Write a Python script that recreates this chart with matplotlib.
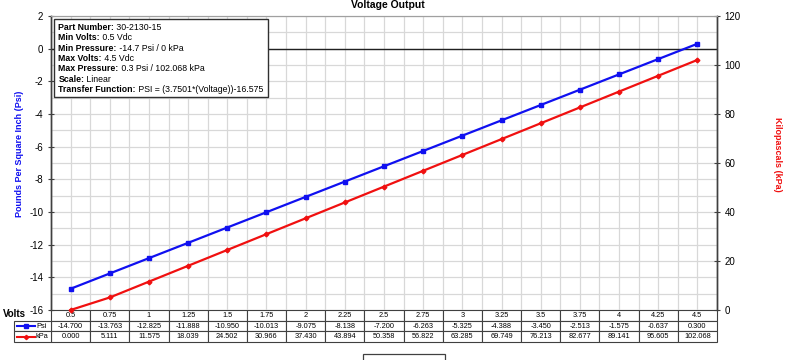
import matplotlib
matplotlib.use('Agg')
import matplotlib.pyplot as plt
from matplotlib.patches import Rectangle
from matplotlib.ticker import MultipleLocator

plt.rcParams['font.family'] = ['Liberation Sans', 'DejaVu Sans']

volts = ['0.5', '0.75', '1', '1.25', '1.5', '1.75', '2', '2.25', '2.5',
         '2.75', '3', '3.25', '3.5', '3.75', '4', '4.25', '4.5']
psi = [-14.700, -13.763, -12.825, -11.888, -10.950, -10.013, -9.075, -8.138,
       -7.200, -6.263, -5.325, -4.388, -3.450, -2.513, -1.575, -0.637, 0.300]
kpa = [0.000, 5.111, 11.575, 18.039, 24.502, 30.966, 37.430, 43.894, 50.358,
       56.822, 63.285, 69.749, 76.213, 82.677, 89.141, 95.605, 102.068]

info = [
    ('Part Number:', ' 30-2130-15'),
    ('Min Volts:', ' 0.5 Vdc'),
    ('Min Pressure:', ' -14.7 Psi / 0 kPa'),
    ('Max Volts:', ' 4.5 Vdc'),
    ('Max Pressure:', ' 0.3 Psi / 102.068 kPa'),
    ('Scale:', ' Linear'),
    ('Transfer Function:', ' PSI = (3.7501*(Voltage))-16.575'),
]

BLUE = '#1010f0'
RED = '#f01010'
EDGE = '#404040'


def main():
    fig = plt.figure(figsize=(8, 3.6), dpi=100)
    ax = fig.add_axes([51 / 800, 1 - 310 / 360, 666 / 800, 294 / 360])
    ax2 = ax.twinx()

    x = list(range(len(volts)))
    ax.set_xlim(-0.5, len(volts) - 0.5)
    ax.set_ylim(-16, 2)
    ax2.set_ylim(0, 120)

    # grid: every half column, every 1 psi
    ax.set_xticks([i - 0.5 for i in range(len(volts) + 1)])
    ax.set_xticks(x, minor=True)
    ax.tick_params(axis='x', which='both', length=0, labelbottom=False)
    ax.yaxis.set_major_locator(MultipleLocator(2))
    ax.yaxis.set_minor_locator(MultipleLocator(1))
    ax.grid(True, which='both', color='#d8d8d8', linewidth=0.9)
    ax.set_axisbelow(True)
    ax.axhline(0, color='#202020', linewidth=1.0, zorder=1)

    ax.tick_params(axis='y', which='major', direction='inout', length=5,
                   width=0.8, color=EDGE, labelsize=7, pad=3)
    ax.tick_params(axis='y', which='minor', length=0)
    ax2.yaxis.set_major_locator(MultipleLocator(20))
    ax2.tick_params(axis='y', direction='inout', length=5, width=0.8,
                    color=EDGE, labelsize=7, pad=3)
    ax.set_yticklabels([f'{v:g}' for v in ax.get_yticks()])

    for a in (ax, ax2):
        a.spines['top'].set_color('#a0a0a0')
        a.spines['bottom'].set_visible(False)
        a.spines['left'].set_color(EDGE)
        a.spines['right'].set_color(EDGE)
        a.spines['left'].set_linewidth(1.0)
        a.spines['right'].set_linewidth(1.0)

    ax.plot(x, psi, color=BLUE, linewidth=1.6, marker='s', markersize=3.5,
            clip_on=False, zorder=3)
    ax2.plot(x, kpa, color=RED, linewidth=1.6, marker='D', markersize=2.4,
             clip_on=False, zorder=3)

    ax.set_ylabel('Pounds Per Square Inch (Psi)', color=BLUE, fontsize=6.5,
                  fontweight='bold')
    ax2.set_ylabel('Kilopascals (kPa)', color=RED, fontsize=6.5,
                   fontweight='bold', rotation=270)
    ax.yaxis.set_label_coords(-0.041, 0.53)
    ax2.yaxis.set_label_coords(1.098, 0.53)

    # info box
    box = Rectangle((0.005, 0.724), 0.321, 0.266, transform=ax.transAxes,
                    facecolor='white', edgecolor='#303030', linewidth=1.0,
                    zorder=5)
    ax.add_patch(box)
    step = 0.0355
    for i, (label, value) in enumerate(info):
        t = ax.text(0.011, 0.962 - i * step, label, transform=ax.transAxes,
                    fontsize=6.3, fontweight='bold', va='center', ha='left',
                    zorder=6)
        ax.annotate(value, xy=(1, 0.5), xycoords=t, fontsize=6.3,
                    va='center', ha='left', zorder=6)

    # data table under the plot
    h = 32 / 294
    tbl = ax.table(cellText=[volts,
                             [f'{v:.3f}' for v in psi],
                             [f'{v:.3f}' for v in kpa]],
                   cellLoc='center', bbox=[0, -h, 1, h])
    tbl.auto_set_font_size(False)
    tbl.set_fontsize(5.3)
    for cell in tbl.get_celld().values():
        cell.set_edgecolor(EDGE)
        cell.set_linewidth(0.8)

    lw = 37 / 666
    keys = ax.table(cellText=[[''], ['']], bbox=[-lw, -h, lw, h * 2 / 3])
    for cell in keys.get_celld().values():
        cell.set_edgecolor(EDGE)
        cell.set_linewidth(0.8)
    row_h = h / 3
    for j, (name, col, mk, ms) in enumerate([('Psi', BLUE, 's', 3),
                                             ('kPa', RED, 'D', 2.2)]):
        yc = -h + row_h * (1.5 - j)
        ax.plot([-lw + 0.004, -lw + 0.032], [yc, yc], color=col,
                linewidth=1.5, transform=ax.transAxes, clip_on=False)
        ax.plot([-lw + 0.018], [yc], color=col, marker=mk, markersize=ms,
                transform=ax.transAxes, clip_on=False)
        ax.text(-lw + 0.033, yc, name, transform=ax.transAxes, fontsize=5.3,
                va='center', ha='left')
    ax.text(-0.072, -row_h / 2 + 0.005, 'Volts', transform=ax.transAxes,
            fontsize=7, fontweight='bold', va='center', ha='left')

    fig.text(388 / 800, 0.999, 'Voltage Output', fontsize=7.5,
             fontweight='bold', ha='center', va='top')

    # legend frame peeking in at the bottom edge
    fig.patches.append(Rectangle((363 / 800, -0.05), 82 / 800,
                                 0.05 + 6 / 360, transform=fig.transFigure,
                                 facecolor='white', edgecolor='#404040',
                                 linewidth=0.9))

    fig.savefig('out.png', dpi=100)


if __name__ == '__main__':
    main()
